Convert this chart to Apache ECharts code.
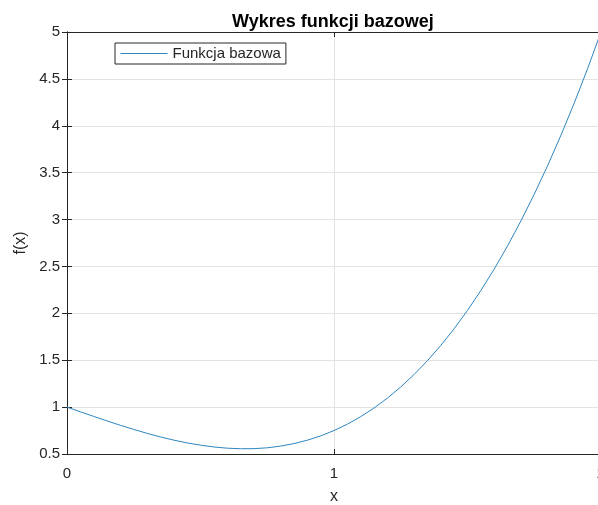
<!DOCTYPE html>
<html>
<head>
<meta charset="utf-8">
<script src="https://cdn.jsdelivr.net/npm/echarts@6/dist/echarts.min.js"></script>
<style>
  html, body { margin: 0; padding: 0; background: #fff; }
  #chart { width: 598px; height: 505px; }
</style>
</head>
<body>
<div id="chart"></div>
<script>
// Sampled points of the base function
const xValues = [0.00, 0.05, 0.10, 0.15, 0.20, 0.25, 0.30, 0.35, 0.40, 0.45,
                 0.50, 0.55, 0.60, 0.65, 0.70, 0.75, 0.80, 0.85, 0.90, 0.95,
                 1.00, 1.05, 1.10, 1.15, 1.20, 1.25, 1.30, 1.35, 1.40, 1.45,
                 1.50, 1.55, 1.60, 1.65, 1.70, 1.75, 1.80, 1.85, 1.90, 1.95, 2.00];
const yValues = [1.000, 0.950, 0.901, 0.853, 0.806, 0.762, 0.720, 0.682, 0.648, 0.618,
                 0.594, 0.575, 0.562, 0.556, 0.557, 0.566, 0.584, 0.611, 0.647, 0.693,
                 0.750, 0.818, 0.898, 0.991, 1.096, 1.215, 1.348, 1.495, 1.658, 1.836,
                 2.031, 2.243, 2.472, 2.719, 2.985, 3.270, 3.574, 3.899, 4.244, 4.611, 5.000];
const seriesName = 'Funkcja bazowa';
const titleText = 'Wykres funkcji bazowej';

const points = xValues.map((x, i) => [x, yValues[i]]);

const ink = '#262626';
const lineColor = '#2f86c0';
const font = 'Liberation Sans, Arial, Helvetica, sans-serif';

const chart = echarts.init(document.getElementById('chart'), null, { renderer: 'canvas' });
chart.setOption({
  backgroundColor: '#ffffff',
  animation: false,
  title: {
    text: titleText,
    left: 227,
    top: 8,
    textStyle: { fontFamily: font, fontSize: 18, fontWeight: 'bold', color: '#000' }
  },
  legend: {
    left: 115,
    top: 43,
    padding: [3, 5, 3, 5],
    itemWidth: 47,
    itemHeight: 14,
    borderColor: ink,
    borderWidth: 1,
    borderRadius: 0,
    backgroundColor: '#fff',
    textStyle: { fontFamily: font, fontSize: 15, color: ink, lineHeight: 14 },
    itemStyle: { color: 'transparent', borderColor: 'transparent', borderWidth: 0 },
    lineStyle: { width: 1 },
    data: [seriesName]
  },
  grid: {
    left: 67,
    right: -3,
    top: 32,
    bottom: 51,
    outerBoundsMode: 'none',
    containLabel: false
  },
  xAxis: [{
    type: 'value',
    min: 0,
    max: 2,
    interval: 1,
    position: 'bottom',
    name: 'x',
    nameLocation: 'middle',
    nameGap: 35,
    nameTextStyle: { fontFamily: font, fontSize: 16, color: ink },
    axisLine: { show: true, lineStyle: { color: ink, width: 1 } },
    axisTick: { show: true, inside: true, length: 5, lineStyle: { color: ink } },
    axisLabel: { fontFamily: font, fontSize: 15, color: ink, margin: 12 },
    splitLine: { show: true, lineStyle: { color: '#e3e3e3', width: 1 } }
  }, {
    type: 'value',
    min: 0,
    max: 2,
    interval: 1,
    position: 'top',
    axisLine: { show: true, lineStyle: { color: ink, width: 1 } },
    axisTick: { show: true, inside: true, length: 5, lineStyle: { color: ink } },
    axisLabel: { show: false },
    splitLine: { show: false }
  }],
  yAxis: [{
    type: 'value',
    min: 0.5,
    max: 5,
    interval: 0.5,
    position: 'left',
    name: 'f(x)',
    nameLocation: 'middle',
    nameGap: 38,
    nameTextStyle: { fontFamily: font, fontSize: 16, color: ink },
    axisLine: { show: true, lineStyle: { color: ink, width: 1 } },
    axisTick: { show: true, inside: true, length: 5, lineStyle: { color: ink } },
    axisLabel: { fontFamily: font, fontSize: 15, color: ink, margin: 7 },
    splitLine: { show: true, lineStyle: { color: '#e3e3e3', width: 1 } }
  }, {
    type: 'value',
    min: 0.5,
    max: 5,
    interval: 0.5,
    position: 'right',
    axisLine: { show: true, lineStyle: { color: ink, width: 1 } },
    axisTick: { show: true, inside: true, length: 5, lineStyle: { color: ink } },
    axisLabel: { show: false },
    splitLine: { show: false }
  }],
  series: [{
    name: seriesName,
    type: 'line',
    xAxisIndex: 0,
    yAxisIndex: 0,
    data: points,
    smooth: false,
    symbol: 'none',
    lineStyle: { color: lineColor, width: 1 },
    itemStyle: { color: lineColor }
  }]
});
</script>
</body>
</html>
